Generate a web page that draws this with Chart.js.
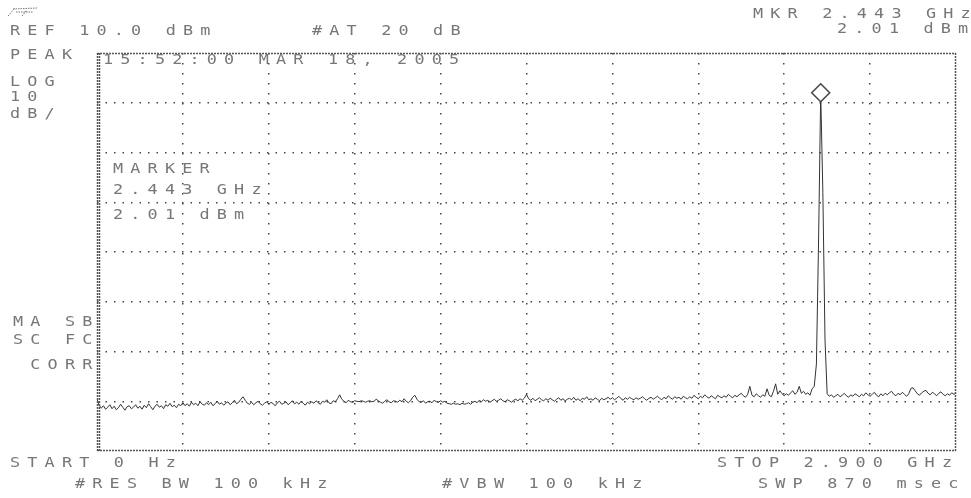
<!DOCTYPE html>
<html>
<head>
<meta charset="utf-8">
<script src="https://cdn.jsdelivr.net/npm/chart.js@4/dist/chart.umd.min.js"></script>
<style>
  html, body { margin: 0; padding: 0; background: #fff; }
  #wrap { width: 971px; height: 498px; }
</style>
</head>
<body>
<div id="wrap"><canvas id="sa" width="971" height="498"></canvas></div>
<script>
// sweep settings
var startMHz = 0;
var stopMHz = 2900;
var refLevel = 10;      // dBm, top of screen
var dbPerDiv = 10;
var divisions = 8;

// marker readout
var markerMHz = 2443.25;
var markerDbm = 2.01;

// 401 trace points, dBm
var traceDbm = [
  -59.6,-60.8,-61.4,-60.9,-61.6,-61.2,-60.7,-61.5,-61.0,-61.7,-61.3,-60.6,-61.2,-61.8,-61.1,-60.9,-61.5,-61.2,-60.7,-61.4,
  -61.0,-61.6,-60.8,-61.3,-60.5,-61.1,-61.7,-61.0,-60.6,-61.2,-60.9,-61.5,-60.7,-61.0,-60.4,-61.1,-60.8,-61.3,-60.6,-60.9,
  -60.3,-60.9,-60.5,-61.0,-60.2,-60.7,-60.4,-60.9,-60.1,-60.6,-60.8,-60.3,-60.7,-60.2,-60.9,-60.5,-60.0,-60.6,-60.3,-60.8,
  -60.4,-60.1,-60.7,-60.3,-59.8,-60.5,-60.2,-59.6,-59.1,-59.8,-60.4,-60.6,-60.2,-60.7,-60.3,-60.0,-60.5,-60.8,-60.4,-60.1,
  -60.6,-60.2,-60.5,-60.9,-60.3,-60.0,-60.6,-60.4,-60.1,-60.7,-60.3,-59.9,-60.5,-60.2,-60.6,-60.0,-60.4,-60.8,-60.2,-60.5,
  -60.1,-60.4,-59.9,-60.3,-60.6,-60.0,-60.2,-59.7,-60.3,-60.5,-59.9,-60.1,-59.5,-58.7,-59.6,-60.0,-60.3,-59.8,-60.1,-60.2,
  -59.9,-60.0,-60.1,-59.9,-60.0,-60.2,-60.0,-59.9,-60.1,-60.0,-59.6,-59.9,-60.2,-60.4,-60.0,-59.7,-60.1,-60.3,-59.9,-60.0,
  -60.2,-59.8,-60.1,-59.5,-60.0,-60.3,-59.9,-59.2,-58.8,-59.6,-60.1,-60.2,-59.9,-60.4,-60.1,-60.0,-60.3,-59.8,-60.1,-60.2,
  -59.9,-60.2,-60.0,-60.4,-60.5,-60.6,-60.4,-60.6,-60.5,-60.7,-60.4,-60.6,-60.5,-60.3,-60.6,-60.2,-60.0,-60.3,-59.8,-60.1,
  -59.7,-60.0,-59.8,-60.2,-59.9,-59.6,-60.0,-59.8,-59.5,-59.9,-60.1,-59.7,-59.9,-60.2,-59.8,-59.6,-59.9,-59.5,-59.8,-59.4,
  -58.6,-59.5,-59.8,-59.4,-59.9,-59.6,-59.3,-59.7,-59.9,-59.5,-59.8,-59.4,-59.7,-60.0,-59.6,-59.3,-59.8,-59.5,-59.9,-59.6,
  -59.4,-59.7,-59.2,-59.8,-59.5,-59.9,-59.4,-59.6,-59.1,-59.7,-59.5,-59.8,-59.3,-59.6,-59.9,-59.4,-59.7,-59.5,-59.2,-59.6,
  -59.3,-59.7,-59.4,-59.0,-59.5,-59.8,-59.3,-59.6,-59.2,-59.5,-59.7,-59.3,-59.6,-59.4,-59.1,-59.5,-59.8,-59.4,-59.2,-59.6,
  -59.3,-59.0,-59.4,-59.7,-59.2,-59.5,-58.9,-59.3,-59.6,-59.1,-59.4,-59.2,-59.6,-59.0,-59.3,-59.5,-59.1,-59.4,-58.8,-59.2,
  -59.5,-59.0,-59.3,-58.7,-59.1,-59.4,-58.9,-59.2,-59.5,-58.8,-59.1,-59.3,-58.9,-59.2,-58.6,-59.0,-59.3,-58.8,-59.1,-58.7,
  -58.4,-58.9,-59.2,-58.6,-57.0,-58.8,-59.1,-58.5,-58.9,-59.2,-58.7,-59.0,-57.5,-58.8,-59.1,-58.0,-56.5,-58.6,-57.9,-58.5,
  -58.9,-58.5,-58.8,-58.3,-57.9,-58.6,-58.2,-57.0,-58.4,-58.0,-58.6,-58.3,-58.8,-57.5,-57.0,-52.5,-28.0,2.01,-18.0,-47.7,
  -58.5,-59.0,-58.7,-59.2,-58.9,-58.6,-59.1,-58.8,-58.4,-58.9,-59.2,-58.7,-59.0,-58.5,-58.8,-59.1,-58.6,-58.9,-58.3,-58.7,
  -59.0,-58.6,-58.2,-58.8,-59.1,-58.5,-58.9,-58.4,-58.7,-58.3,-58.0,-58.6,-58.9,-58.4,-58.7,-58.2,-58.6,-59.0,-58.5,-57.4,
  -57.3,-57.9,-58.5,-58.8,-58.3,-58.0,-57.8,-58.4,-58.7,-58.2,-58.5,-58.9,-58.4,-58.1,-58.6,-58.9,-58.5,-58.8,-58.3,-58.6,
  -58.4
];

// annotation text on the analyzer screen: [text, left x, middle y]
var screenText = [
  ['MKR 2.443 GHz', 753, 14],
  ['REF 10.0 dBm', 10, 31],
  ['#AT 20 dB', 312, 31],
  ['2.01 dBm', 837, 29],
  ['PEAK', 10, 55],
  ['LOG', 10, 82],
  ['10', 10, 97],
  ['dB/', 10, 114],
  ['15:52:00 MAR 18, 2005', 103, 60],
  ['MARKER', 113, 169],
  ['2.443 GHz', 113, 190],
  ['2.01 dBm', 113, 215],
  ['MA SB', 13, 322],
  ['SC FC', 13, 340],
  [' CORR', 13, 365],
  ['START 0 Hz', 10, 463],
  ['#RES BW 100 kHz', 75, 484],
  ['#VBW 100 kHz', 442, 484],
  ['STOP 2.900 GHz', 717, 463],
  ['SWP 870 msec', 758, 484]
];

var stepMHz = (stopMHz - startMHz) / (traceDbm.length - 1);
var tracePoints = traceDbm.map(function (v, i) {
  return { x: startMHz + i * stepMHz, y: v };
});

var PITCH = 17.3;

// screen frame and dot-matrix style labels
var screenDecor = {
  id: 'screenDecor',
  afterDraw: function (chart) {
    var c = chart.ctx;
    var a = chart.chartArea;

    c.save();
    c.strokeStyle = '#555';
    c.lineWidth = 1.5;
    c.setLineDash([2, 1]);
    c.beginPath();
    c.moveTo(a.left, a.top + 0.5);
    c.lineTo(a.right, a.top + 0.5);
    c.moveTo(a.right - 0.5, a.top);
    c.lineTo(a.right - 0.5, a.bottom);
    c.moveTo(a.left, a.bottom - 0.5);
    c.lineTo(a.right, a.bottom - 0.5);
    c.stroke();
    // left edge is drawn doubled
    c.beginPath();
    c.moveTo(a.left + 0.5, a.top);
    c.lineTo(a.left + 0.5, a.bottom);
    c.moveTo(a.left + 2.5, a.top);
    c.lineTo(a.left + 2.5, a.bottom);
    c.stroke();
    c.restore();

    // small logo
    c.save();
    c.strokeStyle = '#777';
    c.lineWidth = 1;
    c.setLineDash([1.5, 1]);
    c.beginPath();
    c.moveTo(8, 16); c.lineTo(15, 8);
    c.moveTo(13, 9); c.lineTo(37, 8);
    c.moveTo(16, 12); c.lineTo(33, 12);
    c.moveTo(22, 16); c.lineTo(27, 10);
    c.stroke();
    c.restore();

    c.save();
    c.fillStyle = '#777';
    c.font = '14px "DejaVu Sans Mono"';
    c.textBaseline = 'middle';
    screenText.forEach(function (t) {
      var s = t[0];
      for (var k = 0; k < s.length; k++) {
        if (s[k] === ' ') continue;
        c.save();
        c.translate(t[1] + k * PITCH, t[2]);
        c.scale(1.2, 1.0);
        c.fillText(s[k], 0, 0);
        c.restore();
      }
    });
    c.restore();
  }
};

var gridColor = function (ctx) {
  var s = ctx.scale;
  if (ctx.tick && (ctx.tick.value === s.min || ctx.tick.value === s.max)) return 'rgba(0,0,0,0)';
  return '#444';
};

new Chart(document.getElementById('sa').getContext('2d'), {
  type: 'line',
  data: {
    datasets: [
      {
        data: tracePoints,
        borderColor: '#333',
        borderWidth: 1,
        pointRadius: 0,
        tension: 0,
        order: 2
      },
      {
        data: [{ x: markerMHz, y: markerDbm }],
        showLine: false,
        pointStyle: 'rectRot',
        pointRadius: 9,
        borderColor: '#444',
        borderWidth: 1.5,
        backgroundColor: '#fff',
        order: 1
      }
    ]
  },
  options: {
    responsive: false,
    animation: false,
    events: [],
    layout: { padding: { left: 97, right: 15, top: 53, bottom: 47 } },
    plugins: { legend: { display: false }, tooltip: { enabled: false } },
    scales: {
      x: {
        type: 'linear',
        min: startMHz,
        max: stopMHz,
        ticks: { display: false, stepSize: (stopMHz - startMHz) / 10 },
        grid: { color: gridColor, lineWidth: 1.5, drawTicks: false },
        border: { display: false, dash: [1.5, 8.5] }
      },
      y: {
        min: refLevel - dbPerDiv * divisions,
        max: refLevel,
        ticks: { display: false, stepSize: dbPerDiv },
        grid: { color: gridColor, lineWidth: 1.5, drawTicks: false },
        border: { display: false, dash: [1.5, 7] }
      }
    }
  },
  plugins: [screenDecor]
});
</script>
</body>
</html>
